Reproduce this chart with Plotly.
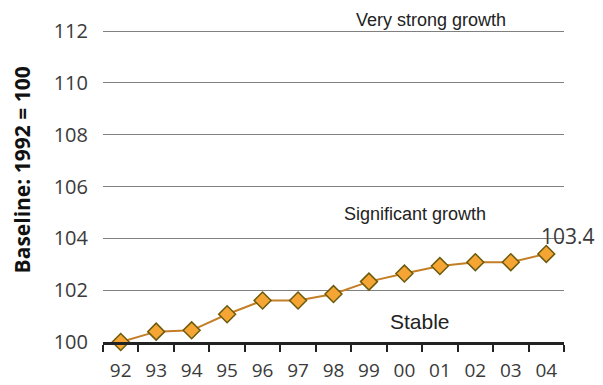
import plotly.graph_objects as go

# Index values by year (1992 = 100)
years = ["92", "93", "94", "95", "96", "97", "98", "99", "00", "01", "02", "03", "04"]
index_values = [100.0, 100.40, 100.45, 101.07, 101.60, 101.60, 101.85, 102.33,
                102.64, 102.93, 103.08, 103.08, 103.4]
y_ticks = [100, 102, 104, 106, 108, 110, 112]

band_labels = ["Very strong growth", "Significant growth", "Stable"]
band_y = [1.032, 0.41, 0.067]
band_x = [0.711, 0.677, 0.688]
band_sizes = [18, 18, 21]

TICK_FONT = dict(family="Open Sans", size=20, color="#3a3a3a")
X_TICK_FONT = dict(family="Open Sans", size=19, color="#3a3a3a")

fig = go.Figure()
fig.add_trace(go.Scatter(
    x=list(range(len(years))), y=index_values, mode="lines+markers",
    line=dict(color="#C47E25", width=2),
    marker=dict(symbol="diamond", size=13, color="#F4A534",
                line=dict(color="#6B5A0C", width=1.5)),
    showlegend=False, cliponaxis=False,
))

for text, py, px, sz in zip(band_labels, band_y, band_x, band_sizes):
    fig.add_annotation(text=text, x=px, xref="paper", y=py, yref="paper",
                       showarrow=False, xanchor="center", yanchor="middle",
                       font=dict(family="Liberation Sans", size=sz, color="#222222"))

# Final value label
fig.add_annotation(text=f"{index_values[-1]:.1f}", x=len(years) - 1, y=index_values[-1],
                   xref="x", yref="y", showarrow=False, xanchor="center",
                   yanchor="middle", xshift=22, yshift=18,
                   font=dict(family="Open Sans", size=21, color="#3a3a3a"))

fig.add_annotation(text="<b>Baseline: 1992 = 100</b>", x=-0.175, xref="paper",
                   y=0.551, yref="paper", textangle=-90, showarrow=False,
                   xanchor="center", yanchor="middle",
                   font=dict(family="Open Sans", size=21, color="#111111"))

fig.update_layout(
    width=603, height=385,
    margin=dict(l=103, r=39, t=30, b=43),
    paper_bgcolor="white", plot_bgcolor="white",
    xaxis=dict(range=[-0.5, len(years) - 0.5], automargin=False,
               tickvals=list(range(len(years))), ticktext=years,
               ticks="", showline=True, linecolor="#222222",
               linewidth=2.5, showgrid=False, tickfont=X_TICK_FONT,
               ticklabelstandoff=9, zeroline=False,
               minor=dict(tickvals=[i - 0.5 for i in range(len(years) + 1)],
                          ticks="outside", ticklen=7, tickwidth=2,
                          tickcolor="#222222", showgrid=False)),
    yaxis=dict(range=[100, 112.04], tickvals=y_ticks, showgrid=True,
               automargin=False,
               gridcolor="#808080", gridwidth=1.2, zeroline=False,
               showline=False, tickfont=TICK_FONT, ticklabelstandoff=14),
)

fig.write_html("out.html")
